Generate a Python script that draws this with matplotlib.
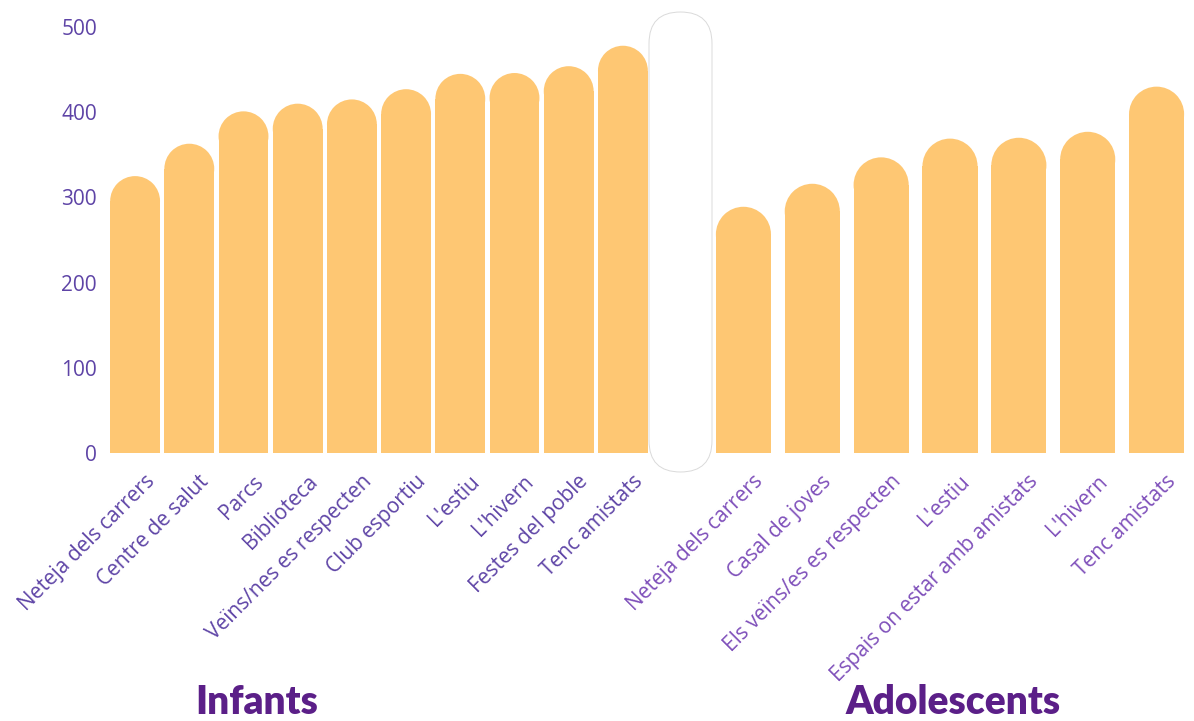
import matplotlib
matplotlib.use("Agg")
import matplotlib.pyplot as plt
from matplotlib.patches import Rectangle, Ellipse, FancyBboxPatch
from matplotlib.transforms import ScaledTranslation

infants_labels = ["Neteja dels carrers", "Centre de salut", "Parcs", "Biblioteca",
                  "Veïns/nes es respecten", "Club esportiu", "L'estiu", "L'hivern",
                  "Festes del poble", "Tenc amistats"]
infants_values = [325, 363, 401, 410, 415, 427, 445, 446, 454, 478]

adol_labels = ["Neteja dels carrers", "Casal de joves", "Els veïns/es es respecten",
               "L'estiu", "Espais on estar amb amistats", "L'hivern", "Tenc amistats"]
adol_values = [289, 316, 347, 369, 370, 377, 430]

yticks = [0, 100, 200, 300, 400, 500]

BAR = "#FEC773"
TICK_L = "#5E44A6"
TICK_R = "#7E4FBA"
TITLE = "#5B1F88"
FONT = ["Open Sans", "DejaVu Sans"]
TFONT = ["Lato", "DejaVu Sans"]

W, H = 1194, 721
fig = plt.figure(figsize=(W / 100, H / 100), dpi=100)

y0_px, y500_px = 453, 27


def make_ax(left_px, right_px):
    return fig.add_axes([left_px / W, (H - y0_px) / H,
                         (right_px - left_px) / W, (y0_px - y500_px) / H])


def draw_bars(ax, values, labels, width, left_px, right_px, color):
    n = len(values)
    ax.set_xlim(-0.5, n - 0.5)
    ax.set_ylim(0, 500)
    px_per_x = (right_px - left_px) / n
    px_per_y = (y0_px - y500_px) / 500
    r_px = width * px_per_x / 2
    r_y = r_px / px_per_y
    for i, v in enumerate(values):
        ax.add_patch(Rectangle((i - width / 2, 0), width, v - r_y,
                               facecolor=BAR, edgecolor="none", clip_on=False))
        ax.add_patch(Ellipse((i, v - r_y), width, 2 * r_y,
                             facecolor=BAR, edgecolor="none", clip_on=False))
    ax.set_xticks(range(n))
    ax.set_xticklabels(labels, rotation=45, ha="right", va="top",
                       rotation_mode="anchor", color=color, fontsize=15,
                       family=FONT)
    ax.tick_params(axis="x", length=0, pad=13)
    off = ScaledTranslation(0.09, 0.0, fig.dpi_scale_trans)
    for lab in ax.get_xticklabels():
        lab.set_transform(lab.get_transform() + off)
    for s in ax.spines.values():
        s.set_visible(False)
    ax.set_facecolor("none")


ax1 = make_ax(108, 650)
draw_bars(ax1, infants_values, infants_labels, 0.92, 108, 650, TICK_L)
ax1.set_yticks(yticks)
ax1.set_yticklabels([str(t) for t in yticks], color=TICK_L, fontsize=15, family=FONT)
ax1.tick_params(axis="y", length=0, pad=8)

ax2 = make_ax(709, 1191)
draw_bars(ax2, adol_values, adol_labels, 0.8, 709, 1191, TICK_R)
ax2.set_yticks([])

# decorative pill between the panels
ov = fig.add_axes([0, 0, 1, 1])
ov.set_xlim(0, W)
ov.set_ylim(H, 0)
ov.axis("off")
ov.set_facecolor("none")
ov.add_patch(FancyBboxPatch((649, 12), 63, 460,
                            boxstyle="round,pad=0,rounding_size=31.5",
                            facecolor="white", edgecolor="#dadada", lw=0.7))

fig.text(257 / W, 1 - 703 / H, "Infants", ha="center", va="center",
         fontsize=28, fontweight="heavy", color=TITLE, family=TFONT)
fig.text(953 / W, 1 - 703 / H, "Adolescents", ha="center", va="center",
         fontsize=28, fontweight="heavy", color=TITLE, family=TFONT)

fig.savefig("out.png", dpi=100)
